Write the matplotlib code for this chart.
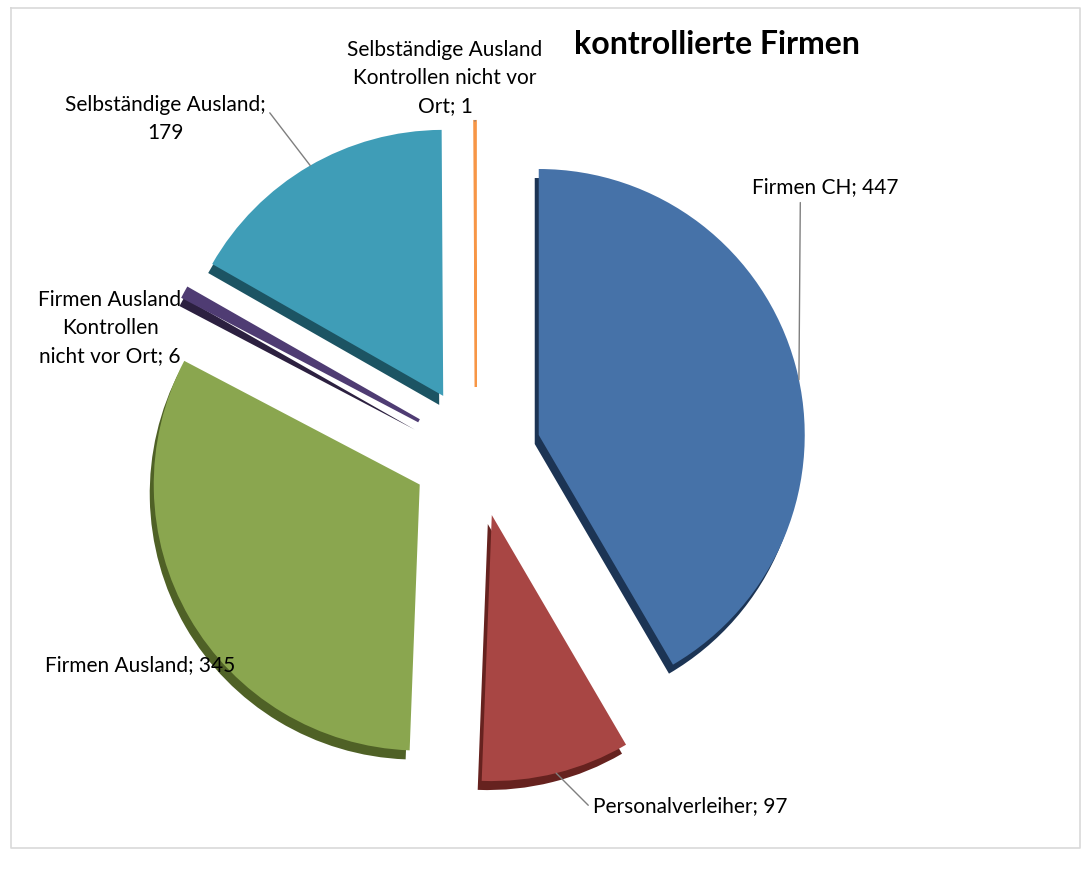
"""
Kontrollierte Firmen - exploded pie with a fake 3D edge.
"""
import numpy as np
import matplotlib
matplotlib.use("Agg")
import matplotlib.pyplot as plt

plt.rcParams['font.family'] = ['Lato', 'DejaVu Sans']

# --- Data ---
categories = ["Firmen CH", "Personalverleiher", "Firmen Ausland",
              "Firmen Ausland\nKontrollen\nnicht vor Ort",
              "Selbständige Ausland",
              "Selbständige Ausland\nKontrollen nicht vor\nOrt"]
values = [447, 97, 345, 6, 179, 1]
separators = ["; ", "; ", "; ", "; ", ";\n", "; "]
title = "kontrollierte Firmen"

# --- Style ---
top_colors = ["#4672a8", "#a84644", "#8aa64f", "#4f3c73", "#3f9db7", "#f79646"]
side_colors = ["#1c3454", "#66221f", "#4f6126", "#2c2040", "#1c5463", "#b8692c"]
W, H = 1091, 869
center = (476, H - 452)
radius = 266
expl = [65] * len(values)
depth = (-4, -9)

fig = plt.figure(figsize=(W / 100, H / 100), dpi=100)
ax = fig.add_axes([0, 0, 1, 1])

# side (extrusion) first, then the top face
sides, _ = ax.pie(values, explode=expl, radius=radius, startangle=90,
                  counterclock=False,
                  center=(center[0] + depth[0], center[1] + depth[1]),
                  colors=side_colors, wedgeprops=dict(linewidth=0), frame=True)
wedges, _ = ax.pie(values, explode=expl, radius=radius, startangle=90,
                   counterclock=False, center=center, colors=top_colors,
                   wedgeprops=dict(linewidth=0), frame=True)
# the thin slices get a little outline so they read like the original
wedges[3].set_edgecolor(top_colors[3])
wedges[3].set_linewidth(2.5)
wedges[5].set_edgecolor(top_colors[5])
wedges[5].set_linewidth(1.5)
sides[5].set_visible(False)  # side of a 1-unit slice shows as a stray line

ax.set_xlim(0, W)
ax.set_ylim(0, H)
ax.set_aspect('equal')
ax.axis('off')

# chart border
ax.plot([11, 1080, 1080, 11, 11], [H - 8, H - 8, H - 848, H - 848, H - 8],
        color='#d9d9d9', lw=1.2)

ax.text(717, H - 45, title, fontsize=23, fontweight='bold', ha='center',
        va='center', color='black')

labels = [f"{c}{s}{v}" for c, s, v in zip(categories, separators, values)]


def arc_point(w, ang):
    cx, cy = w.center
    return (cx + w.r * np.cos(np.radians(ang)), cy + w.r * np.sin(np.radians(ang)))


# (text position in image px, ha, anchor angle on wedge or None, relpos)
label_layout = [
    ((752, 187), 'left', 12, (0.33, 0.0)),
    ((593, 806), 'left', -76, (0.0, 0.3)),
    ((45, 665), 'left', None, None),
    ((110, 328), 'center', None, None),
    ((165, 119), 'center', 120, (1.0, 0.75)),
    ((445, 78), 'center', 90.2, (0.68, 0.0)),
]

for w, lab, (pos, ha, ang, rel) in zip(wedges, labels, label_layout):
    xy_text = (pos[0], H - pos[1])
    if ang is None:
        ax.text(*xy_text, lab, fontsize=15, ha=ha, va='center',
                linespacing=1.5, multialignment='center')
    else:
        ax.annotate(lab, xy=arc_point(w, ang), xytext=xy_text,
                    fontsize=15, ha=ha, va='center', linespacing=1.5,
                    multialignment='center',
                    arrowprops=dict(arrowstyle='-', color='#7f7f7f', lw=1,
                                    relpos=rel, shrinkA=2, shrinkB=0))

fig.savefig("out.png", dpi=100, facecolor='white')
